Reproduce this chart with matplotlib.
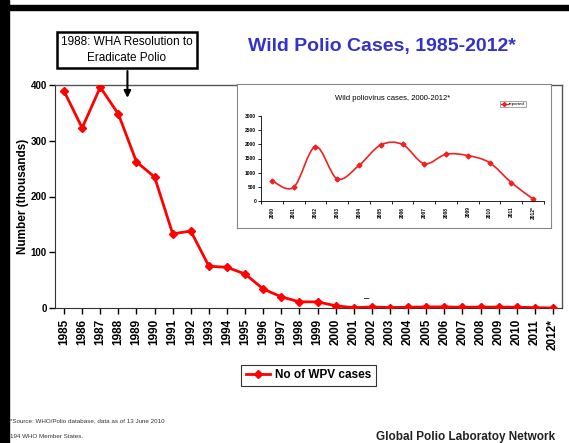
import matplotlib
matplotlib.use("Agg")
import matplotlib.pyplot as plt
from matplotlib.path import Path
from matplotlib.patches import PathPatch, Rectangle
from matplotlib.lines import Line2D
import numpy as np

plt.rcParams['font.family'] = ['Liberation Sans', 'DejaVu Sans']

years = ["1985", "1986", "1987", "1988", "1989", "1990", "1991", "1992", "1993", "1994",
         "1995", "1996", "1997", "1998", "1999", "2000", "2001", "2002", "2003", "2004",
         "2005", "2006", "2007", "2008", "2009", "2010", "2011", "2012*"]
cases_thousands = [389, 323, 396, 348, 262, 235, 133, 138, 75, 73,
                   61, 34, 20, 11, 11, 4, 0.5, 1.9, 0.8, 1.3,
                   2.0, 2.0, 1.3, 1.7, 1.6, 1.4, 0.65, 0.07]

inset_years = ["2000", "2001", "2002", "2003", "2004", "2005", "2006", "2007",
               "2008", "2009", "2010", "2011", "2012*"]
inset_cases = [720, 483, 1918, 784, 1255, 1979, 1997, 1315, 1651, 1604, 1352, 650, 70]

W, H = 569, 443
fig = plt.figure(figsize=(W / 100, H / 100), dpi=100)

def px(l, t, r, b):
    return [l / W, 1 - b / H, (r - l) / W, (b - t) / H]

# black border
fig.patches.append(Rectangle((0, 0), 9 / W, 1, transform=fig.transFigure, color='black', zorder=10))
fig.patches.append(Rectangle((0, 1 - 10 / H), 1, 5 / H, transform=fig.transFigure, color='black', zorder=10))

red = '#ff0000'

# main axes
ax = fig.add_axes(px(55, 85, 562, 308))
x = np.arange(len(years))
ax.plot(x, cases_thousands, color=red, lw=2, marker='D', ms=4.5, label='No of WPV cases', zorder=3)
ax.set_xlim(-0.5, len(years) - 0.5)
ax.set_ylim(0, 400)
ax.set_yticks([0, 100, 200, 300, 400])
ax.set_yticklabels(['0', '100', '200', '300', '400'], fontweight='bold', fontsize=7)
ax.set_xticks(x)
ax.set_xticklabels(years, rotation=90, fontweight='bold', fontsize=8.5)
ax.tick_params(axis='both', direction='out', length=4, width=1, pad=2)
ax.tick_params(axis='x', pad=4)
for s in ['top', 'right']:
    ax.spines[s].set_color('#555555')
    ax.spines[s].set_linewidth(1)
ax.spines['left'].set_color('#333333')
ax.spines['bottom'].set_color('#333333')
ax.set_ylabel('Number (thousands)', fontweight='bold', fontsize=8.5)
ax.yaxis.set_label_coords((29 - 55) / 507, 0.5)

# small dash artifact
ax.text(16.7, 18, '\u2013', fontsize=7, ha='center', va='center', color='black')

# legend
leg = ax.legend(loc='upper center', bbox_to_anchor=(0.5, -0.228), frameon=True, fancybox=False,
                edgecolor='black', prop={'size': 8.5, 'weight': 'bold'}, handlelength=2,
                borderpad=0.4, handletextpad=0.4)
leg.get_frame().set_linewidth(0.8)

# annotation box and arrow
fig.text(127 / W, 1 - 50 / H, '1988: WHA Resolution to\nEradicate Polio', ha='center', va='center',
         fontsize=8.5, linespacing=1.4,
         bbox=dict(boxstyle='square,pad=0.35', fc='white', ec='black', lw=1.8))
ax.annotate('', xy=(3.5, 372), xycoords='data', xytext=(3.5, 430),
            arrowprops=dict(arrowstyle='-|>', color='black', lw=1.5, mutation_scale=10),
            annotation_clip=False)

# title
fig.text(382 / W, 1 - 46 / H, 'Wild Polio Cases, 1985-2012*', ha='center', va='center',
         fontsize=14, fontweight='bold', color='#3333cc')

# inset frame
frame = fig.add_axes(px(237, 84, 551, 228))
frame.set_xticks([]); frame.set_yticks([])
for s in frame.spines.values():
    s.set_color('#888888'); s.set_linewidth(0.8)
frame.set_facecolor('white')

ins = fig.add_axes(px(261, 116, 544, 201))
xi = np.arange(len(inset_years))
yi = np.array(inset_cases, dtype=float)
# smooth curve through points via Catmull-Rom bezier
verts = [(xi[0], yi[0])]
codes = [Path.MOVETO]
pts = np.column_stack([xi, yi])
for i in range(len(pts) - 1):
    p0 = pts[i - 1] if i > 0 else pts[i]
    p1 = pts[i]
    p2 = pts[i + 1]
    p3 = pts[i + 2] if i + 2 < len(pts) else pts[i + 1]
    c1 = p1 + (p2 - p0) / 6
    c2 = p2 - (p3 - p1) / 6
    verts += [tuple(c1), tuple(c2), tuple(p2)]
    codes += [Path.CURVE4] * 3
ins.add_patch(PathPatch(Path(verts, codes), fc='none', ec='#ee2222', lw=1.2))
ins.plot(xi, yi, ls='none', marker='D', ms=2.5, color='#ee2222')
ins.set_xlim(-0.5, len(inset_years) - 0.5)
ins.set_ylim(0, 3000)
ins.set_yticks(range(0, 3001, 500))
ins.set_yticklabels([str(v) for v in range(0, 3001, 500)], fontsize=3.5, fontweight='bold')
ins.set_xticks(xi)
ins.set_xticklabels(inset_years, rotation=90, fontsize=3.5, fontweight='bold')
ins.set_xticks(np.arange(-0.5, len(inset_years), 1), minor=True)
ins.tick_params(axis='x', which='major', length=0, pad=4)
ins.tick_params(axis='x', which='minor', length=2, width=0.6)
ins.tick_params(axis='y', length=2, width=0.6, pad=1.5)
for s in ['top', 'right']:
    ins.spines[s].set_visible(False)
for s in ['left', 'bottom']:
    ins.spines[s].set_linewidth(0.6)
ins.set_facecolor('none')
fig.text(393 / W, 1 - 98 / H, 'Wild poliovirus cases, 2000-2012*', ha='center', va='center', fontsize=5.5)
ins_leg = ins.legend([Line2D([0], [0], color='#ee2222', lw=1, marker='D', ms=2)], ['reported'],
                     loc='center', bbox_to_anchor=((513 - 261) / (544 - 261), (201 - 104) / (201 - 116)),
                     frameon=True, fancybox=False, edgecolor='#666666', prop={'size': 3.2},
                     handlelength=1.5, borderpad=0.3, handletextpad=0.3)
ins_leg.get_frame().set_linewidth(0.5)

# footnotes
fig.text(10 / W, 1 - 421 / H, '*Source: WHO/Polio database, data as of 13 June 2010', fontsize=4.5,
         va='center', color='#333333')
fig.text(10 / W, 1 - 436 / H, '194 WHO Member States.', fontsize=4.5, va='center', color='#333333')
fig.text(555 / W, 1 - 437 / H, 'Global Polio Laboratoy Network', fontsize=8.5, fontweight='bold',
         ha='right', va='center', color='#222222')

fig.savefig('out.png', dpi=100)
